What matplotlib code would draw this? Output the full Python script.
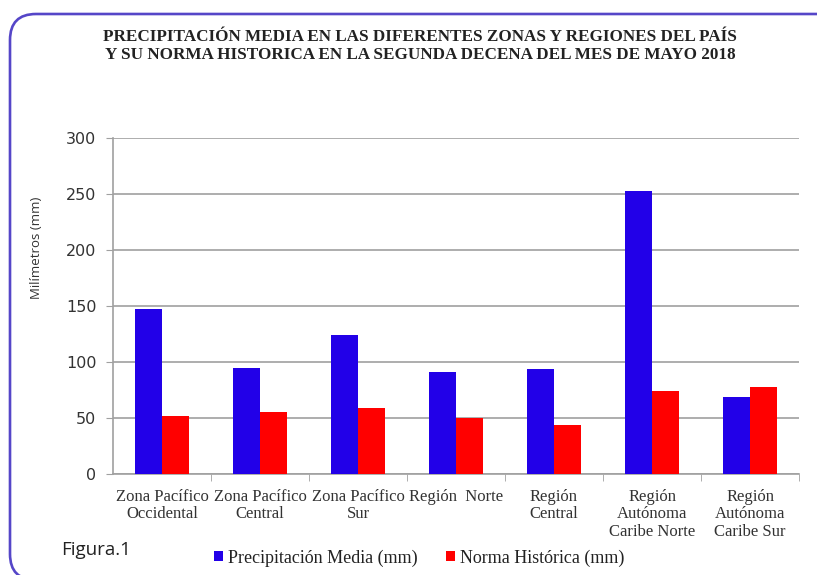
import numpy as np
import matplotlib.pyplot as plt
from matplotlib.patches import FancyBboxPatch

# datos (mm)
categorias = ['Zona Pacífico\nOccidental', 'Zona Pacífico\nCentral', 'Zona Pacífico\nSur',
              'Región  Norte', 'Región\nCentral', 'Región\nAutónoma\nCaribe Norte',
              'Región\nAutónoma\nCaribe Sur']
precip_media = [147, 95, 124, 91, 94, 253, 69]
norma_hist = [52, 55, 59, 50, 44, 74, 78]

azul = '#2200e8'
rojo = '#ff0000'
gris = '#a0a0a0'

fig = plt.figure(figsize=(8.17, 5.75), dpi=100)
ax = fig.add_axes([0.1383, 0.1757, 0.8397, 0.5843])

# marco redondeado (en pulgadas)
marco = FancyBboxPatch((0.10, -0.05), 8.4, 5.61 + 0.05, transform=fig.dpi_scale_trans,
                       boxstyle='round,pad=0,rounding_size=0.26', fill=False,
                       edgecolor='#5546c8', linewidth=1.9, clip_on=False)
fig.patches.append(marco)

x = np.arange(len(categorias))
w = 0.28
ax.bar(x - w/2, precip_media, width=w, color=azul, label='Precipitación Media (mm)', zorder=3)
ax.bar(x + w/2, norma_hist, width=w, color=rojo, label='Norma Histórica (mm)', zorder=3)

ax.set_xlim(-0.5, len(categorias) - 0.5)
ax.set_ylim(0, 300)
ax.set_yticks(range(0, 301, 50))
ax.yaxis.grid(True, color=gris, linewidth=1.2, zorder=0)
ax.set_axisbelow(True)

ax.set_xticks(x)
ax.set_xticklabels(categorias, family='Liberation Serif', fontsize=12, color='#333333',
                   linespacing=1.1, va='top')
ax.set_xticks(np.arange(0.5, len(categorias), 1), minor=True)
ax.tick_params(axis='x', which='major', length=0, pad=11)
ax.tick_params(axis='x', which='minor', length=5, color=gris)
ax.tick_params(axis='y', length=5, color=gris, labelsize=11.5, labelcolor='#333333', pad=7)
for lab in ax.get_yticklabels():
    lab.set_family('DejaVu Sans')

for s in ['top', 'right']:
    ax.spines[s].set_visible(False)
ax.spines['left'].set_color(gris)
ax.spines['bottom'].set_color(gris)
ax.spines['left'].set_linewidth(1.2)
ax.spines['bottom'].set_linewidth(1.2)

fig.text(37/817, 1 - 248/575, 'Milímetros (mm)', rotation=90, ha='center', va='center',
         family='Open Sans', fontsize=9.5, color='#333333')

fig.text(0.514, 0.92, 'PRECIPITACIÓN MEDIA EN LAS DIFERENTES ZONAS Y REGIONES DEL PAÍS\n'
         'Y SU NORMA HISTORICA EN LA SEGUNDA DECENA DEL MES DE MAYO 2018',
         ha='center', va='center', family='Liberation Serif', fontweight='bold',
         fontsize=12.3, color='#222222', linespacing=1.1)

fig.text(61/817, 1 - 550/575, 'Figura.1', family='Open Sans', fontsize=13.5,
         color='#222222', va='center')

ax.legend(loc='center', bbox_to_anchor=(0.446, -0.25), ncol=2, frameon=False,
          prop={'family': 'Liberation Serif', 'size': 13}, handlelength=0.5,
          handleheight=0.5, handletextpad=0.25, columnspacing=1.6, labelcolor='#222222')

fig.savefig('out.png', dpi=100)
